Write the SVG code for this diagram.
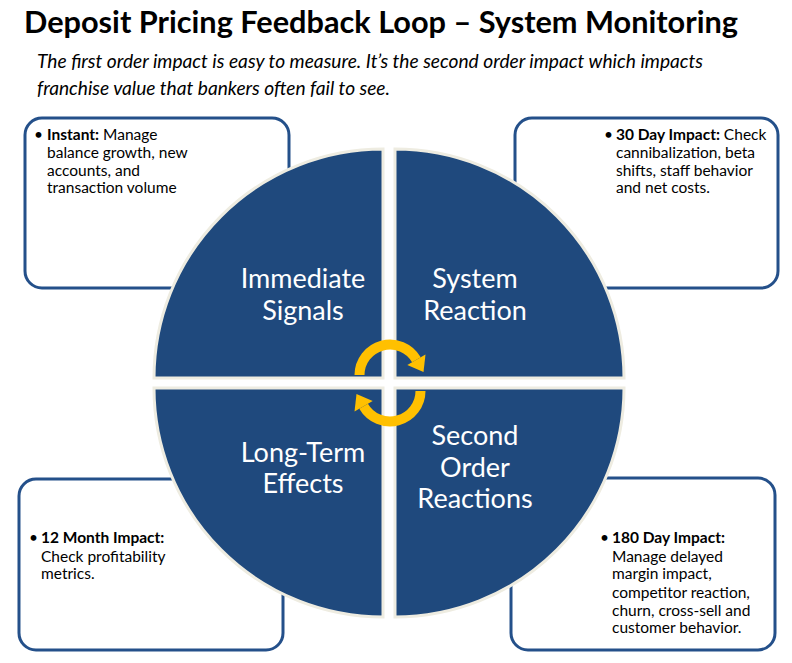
<svg xmlns="http://www.w3.org/2000/svg" width="792" height="663" viewBox="0 0 792 663">
<style>
.title{font-family:Lato,"Open Sans","Liberation Sans",sans-serif;font-weight:bold;font-size:30px;fill:#000}
.sub{font-family:Lato,"Open Sans","Liberation Sans",sans-serif;font-style:italic;font-size:18.5px;fill:#000}
.box{fill:#fff;stroke:#24508A;stroke-width:3}
.bt{font-family:Lato,"Open Sans","Liberation Sans",sans-serif;font-size:15.5px;fill:#000}
.b{font-weight:bold}
.q{fill:#1F497D;stroke:#EEECE1;stroke-width:3}
.ql{font-family:Lato,"Open Sans","Liberation Sans",sans-serif;font-size:27px;fill:#fff;text-anchor:middle}
.arc{fill:none;stroke:#FFC000;stroke-width:10}
.head{fill:#FFC000}
</style>
<rect width="792" height="663" fill="#fff"/>
<text class="title" x="24" y="33" textLength="714" lengthAdjust="spacingAndGlyphs">Deposit Pricing Feedback Loop – System Monitoring</text>
<text class="sub" x="37" y="68" textLength="666" lengthAdjust="spacingAndGlyphs">The first order impact is easy to measure. It’s the second order impact which impacts</text>
<text class="sub" x="37" y="95" textLength="353" lengthAdjust="spacingAndGlyphs">franchise value that bankers often fail to see.</text>

<g id="box-instant">
<rect class="box" x="25" y="118" width="264" height="170" rx="17"/>
<text class="bt"><tspan x="34" y="140">•</tspan><tspan x="47" y="140" class="b">Instant:</tspan><tspan> Manage</tspan><tspan x="47" y="158">balance growth, new</tspan><tspan x="47" y="176">accounts, and</tspan><tspan x="47" y="193">transaction volume</tspan></text>
</g>
<g id="box-30day">
<rect class="box" x="515" y="118" width="263" height="170" rx="17"/>
<text class="bt"><tspan x="604" y="140">•</tspan><tspan x="616" y="140" class="b">30 Day Impact:</tspan><tspan> Check</tspan><tspan x="616" y="158">cannibalization, beta</tspan><tspan x="616" y="176">shifts, staff behavior</tspan><tspan x="616" y="193">and net costs.</tspan></text>
</g>
<g id="box-12month">
<rect class="box" x="19" y="479" width="264" height="171" rx="17"/>
<text class="bt"><tspan x="29" y="543">•</tspan><tspan x="41" y="543" class="b">12 Month Impact:</tspan><tspan x="41" y="562">Check profitability</tspan><tspan x="41" y="579">metrics.</tspan></text>
</g>
<g id="box-180day">
<rect class="box" x="511" y="478" width="264" height="172" rx="17"/>
<text class="bt"><tspan x="600" y="543">•</tspan><tspan x="612" y="543" class="b">180 Day Impact:</tspan><tspan x="612" y="562">Manage delayed</tspan><tspan x="612" y="579">margin impact,</tspan><tspan x="612" y="598">competitor reaction,</tspan><tspan x="612" y="616">churn, cross-sell and</tspan><tspan x="612" y="633">customer behavior.</tspan></text>
</g>

<g id="q-immediate">
<path class="q" d="M383,378 L154,378 A229,229 0 0 1 383,149 Z"/>
<text class="ql"><tspan x="303" y="288">Immediate</tspan><tspan x="303" y="320">Signals</tspan></text>
</g>
<g id="q-system">
<path class="q" d="M395,378 L395,149 A229,229 0 0 1 624,378 Z"/>
<text class="ql"><tspan x="475" y="288">System</tspan><tspan x="475" y="320">Reaction</tspan></text>
</g>
<g id="q-second">
<path class="q" d="M395,388 L624,388 A229,229 0 0 1 395,617 Z"/>
<text class="ql"><tspan x="475" y="445">Second</tspan><tspan x="475" y="477">Order</tspan><tspan x="475" y="508">Reactions</tspan></text>
</g>
<g id="q-longterm">
<path class="q" d="M383,388 L383,617 A229,229 0 0 1 154,388 Z"/>
<text class="ql"><tspan x="303" y="462">Long-Term</tspan><tspan x="303" y="493">Effects</tspan></text>
</g>

<g id="connectors">
<g id="arrow-top">
<path class="arc" d="M359.5,375 A30.5,30.5 0 0 1 416.4,359.75"/>
<polygon class="head" points="425.5,354.5 407.3,365 423.5,372"/>
</g>
<g id="arrow-bottom" transform="rotate(180 390 383)">
<path class="arc" d="M359.5,375 A30.5,30.5 0 0 1 416.4,359.75"/>
<polygon class="head" points="425.5,354.5 407.3,365 423.5,372"/>
</g>
</g>
</svg>
